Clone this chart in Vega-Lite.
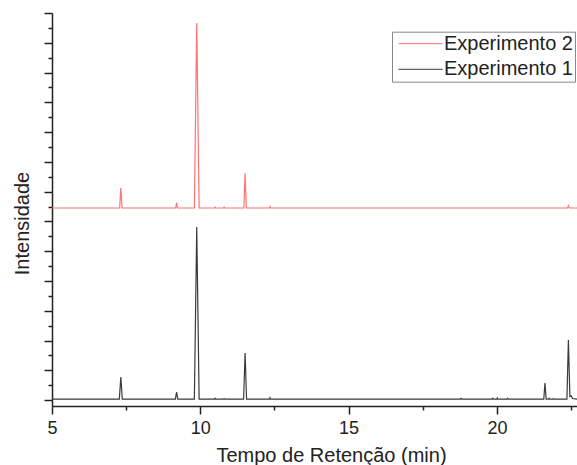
{
  "$schema": "https://vega.github.io/schema/vega-lite/v6.json",
  "width": 525,
  "height": 393,
  "autosize": "none",
  "padding": {"left": 52, "top": 13, "right": 0, "bottom": 59},
  "background": "white",
  "config": {"view": {"stroke": null}, "font": "Liberation Sans"},
  "data": {"values": [
    {"t": 5.0, "v": 0.3, "s": "Experimento 1"},
    {"t": 7.27, "v": 0.3, "s": "Experimento 1"},
    {"t": 7.32, "v": 7.7, "s": "Experimento 1"},
    {"t": 7.37, "v": 0.3, "s": "Experimento 1"},
    {"t": 9.16, "v": 0.3, "s": "Experimento 1"},
    {"t": 9.20, "v": 2.7, "s": "Experimento 1"},
    {"t": 9.24, "v": 0.3, "s": "Experimento 1"},
    {"t": 9.80, "v": 0.3, "s": "Experimento 1"},
    {"t": 9.88, "v": 58.1, "s": "Experimento 1"},
    {"t": 9.96, "v": 0.3, "s": "Experimento 1"},
    {"t": 10.48, "v": 0.3, "s": "Experimento 1"},
    {"t": 10.50, "v": 0.6, "s": "Experimento 1"},
    {"t": 10.52, "v": 0.3, "s": "Experimento 1"},
    {"t": 10.78, "v": 0.3, "s": "Experimento 1"},
    {"t": 10.80, "v": 0.5, "s": "Experimento 1"},
    {"t": 10.82, "v": 0.3, "s": "Experimento 1"},
    {"t": 11.46, "v": 0.3, "s": "Experimento 1"},
    {"t": 11.51, "v": 15.8, "s": "Experimento 1"},
    {"t": 11.56, "v": 0.3, "s": "Experimento 1"},
    {"t": 12.33, "v": 0.3, "s": "Experimento 1"},
    {"t": 12.35, "v": 0.8, "s": "Experimento 1"},
    {"t": 12.37, "v": 0.3, "s": "Experimento 1"},
    {"t": 18.77, "v": 0.3, "s": "Experimento 1"},
    {"t": 18.79, "v": 0.6, "s": "Experimento 1"},
    {"t": 18.81, "v": 0.3, "s": "Experimento 1"},
    {"t": 19.84, "v": 0.3, "s": "Experimento 1"},
    {"t": 19.86, "v": 0.6, "s": "Experimento 1"},
    {"t": 19.88, "v": 0.3, "s": "Experimento 1"},
    {"t": 19.99, "v": 0.3, "s": "Experimento 1"},
    {"t": 20.01, "v": 0.7, "s": "Experimento 1"},
    {"t": 20.03, "v": 0.3, "s": "Experimento 1"},
    {"t": 20.34, "v": 0.3, "s": "Experimento 1"},
    {"t": 20.36, "v": 0.6, "s": "Experimento 1"},
    {"t": 20.38, "v": 0.3, "s": "Experimento 1"},
    {"t": 21.58, "v": 0.3, "s": "Experimento 1"},
    {"t": 21.62, "v": 5.7, "s": "Experimento 1"},
    {"t": 21.66, "v": 0.3, "s": "Experimento 1"},
    {"t": 21.74, "v": 0.3, "s": "Experimento 1"},
    {"t": 21.76, "v": 0.6, "s": "Experimento 1"},
    {"t": 21.78, "v": 0.3, "s": "Experimento 1"},
    {"t": 21.88, "v": 0.3, "s": "Experimento 1"},
    {"t": 21.90, "v": 0.5, "s": "Experimento 1"},
    {"t": 21.92, "v": 0.3, "s": "Experimento 1"},
    {"t": 22.36, "v": 0.3, "s": "Experimento 1"},
    {"t": 22.41, "v": 20.2, "s": "Experimento 1"},
    {"t": 22.46, "v": 1.2, "s": "Experimento 1"},
    {"t": 22.50, "v": 1.4, "s": "Experimento 1"},
    {"t": 22.55, "v": 0.5, "s": "Experimento 1"},
    {"t": 22.70, "v": 0.3, "s": "Experimento 1"},
    {"t": 5.0, "v": 64.5, "s": "Experimento 2"},
    {"t": 7.28, "v": 64.5, "s": "Experimento 2"},
    {"t": 7.32, "v": 71.2, "s": "Experimento 2"},
    {"t": 7.36, "v": 64.5, "s": "Experimento 2"},
    {"t": 9.17, "v": 64.5, "s": "Experimento 2"},
    {"t": 9.20, "v": 66.2, "s": "Experimento 2"},
    {"t": 9.23, "v": 64.5, "s": "Experimento 2"},
    {"t": 9.80, "v": 64.5, "s": "Experimento 2"},
    {"t": 9.88, "v": 126.6, "s": "Experimento 2"},
    {"t": 9.96, "v": 64.5, "s": "Experimento 2"},
    {"t": 10.48, "v": 64.5, "s": "Experimento 2"},
    {"t": 10.50, "v": 64.8, "s": "Experimento 2"},
    {"t": 10.52, "v": 64.5, "s": "Experimento 2"},
    {"t": 10.78, "v": 64.5, "s": "Experimento 2"},
    {"t": 10.80, "v": 64.8, "s": "Experimento 2"},
    {"t": 10.82, "v": 64.5, "s": "Experimento 2"},
    {"t": 11.47, "v": 64.5, "s": "Experimento 2"},
    {"t": 11.51, "v": 76.2, "s": "Experimento 2"},
    {"t": 11.55, "v": 64.5, "s": "Experimento 2"},
    {"t": 12.33, "v": 64.5, "s": "Experimento 2"},
    {"t": 12.35, "v": 65.0, "s": "Experimento 2"},
    {"t": 12.37, "v": 64.5, "s": "Experimento 2"},
    {"t": 22.38, "v": 64.5, "s": "Experimento 2"},
    {"t": 22.41, "v": 65.3, "s": "Experimento 2"},
    {"t": 22.44, "v": 64.5, "s": "Experimento 2"},
    {"t": 22.70, "v": 64.5, "s": "Experimento 2"}
  ]},
  "mark": {"type": "line", "strokeWidth": 1.2, "clip": true},
  "encoding": {
    "x": {
      "field": "t", "type": "quantitative",
      "scale": {"domain": [5, 22.7], "nice": false, "zero": false},
      "axis": {
        "values": [5, 7.5, 10, 12.5, 15, 17.5, 20, 22.5],
        "labelExpr": "datum.value % 5 === 0 ? datum.label : ''",
        "title": "Tempo de Retenção (min)",
        "titleFontSize": 20, "titleFontWeight": "normal", "titleColor": "#222",
        "titleX": 279, "titlePadding": 8,
        "labelFontSize": 18, "labelColor": "#222", "labelPadding": 5,
        "labelFlush": false, "labelOverlap": false,
        "tickSize": {"condition": {"test": "datum.value % 5 === 0", "value": 8}, "value": 4},
        "tickColor": "#222", "tickWidth": 1.5,
        "domainColor": "#222", "domainWidth": 1.5, "grid": false
      }
    },
    "y": {
      "field": "v", "type": "quantitative",
      "scale": {"domain": [-2, 130], "nice": false, "zero": false},
      "axis": {
        "values": [0,5,10,15,20,25,30,35,40,45,50,55,60,65,70,75,80,85,90,95,100,105,110,115,120,125,130],
        "labels": false,
        "title": "Intensidade",
        "titleFontSize": 20, "titleFontWeight": "normal", "titleColor": "#222",
        "titleY": 210, "titlePadding": 11,
        "tickSize": {"condition": {"test": "datum.value % 10 === 0", "value": 8}, "value": 4},
        "tickColor": "#222", "tickWidth": 1.5,
        "domainColor": "#222", "domainWidth": 1.5, "grid": false
      }
    },
    "color": {
      "field": "s", "type": "nominal",
      "scale": {"domain": ["Experimento 2", "Experimento 1"], "range": ["#ff7373", "#3a3a3a"]},
      "legend": {
        "title": null, "orient": "none", "legendX": 340, "legendY": 18.7,
        "symbolType": "M-1,0H7", "symbolSize": 121, "symbolStrokeWidth": 1,
        "labelFontSize": 20, "labelFont": "Liberation Sans", "labelColor": "#222",
        "labelOffset": 30, "rowPadding": 5.6, "padding": 2,
        "strokeColor": "#888", "fillColor": "white", "cornerRadius": 0
      }
    }
  }
}
